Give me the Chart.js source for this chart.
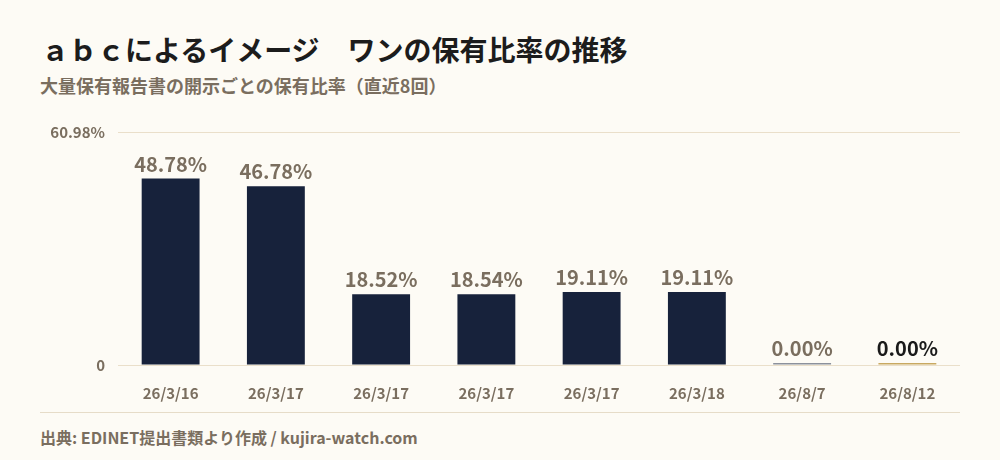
<!DOCTYPE html>
<html lang="ja">
<head>
<meta charset="utf-8">
<script src="https://cdn.jsdelivr.net/npm/chart.js@4.4.1/dist/chart.umd.min.js"></script>
<style>
  html, body { margin:0; padding:0; background:#fdfbf5; }
  body { width:1000px; height:460px; position:relative; overflow:hidden;
         font-family:"Noto Sans CJK JP","Noto Sans",sans-serif; }
  #title { position:absolute; left:41px; top:31px; font-size:28px; font-weight:700; color:#1c1c1c; line-height:36px; white-space:nowrap; }
  #subtitle { position:absolute; left:40px; top:73px; font-size:18px; font-weight:700; color:#7a6e5f; line-height:24px; white-space:nowrap; }
  #wrap { position:absolute; left:0; top:110px; width:1000px; height:300px; }
  #sep { position:absolute; left:40px; top:412px; width:920px; height:1px; background:#e6dcc8; }
  #footer { position:absolute; left:40px; top:426px; font-size:16px; font-weight:700; color:#7a6e5f; line-height:22px; white-space:nowrap; }
</style>
</head>
<body>
<div id="title">ａｂｃによるイメージ　ワンの保有比率の推移</div>
<div id="subtitle">大量保有報告書の開示ごとの保有比率（直近8回）</div>
<div id="wrap"><canvas id="c"></canvas></div>
<div id="sep"></div>
<div id="footer">出典: EDINET提出書類より作成 / kujira-watch.com</div>
<script>
const categories = ['26/3/16','26/3/17','26/3/17','26/3/17','26/3/17','26/3/18','26/8/7','26/8/12'];
const ratios = [48.78, 46.78, 18.52, 18.54, 19.11, 19.11, 0.00, 0.00];
const yTickValues = [0, 60.98];
const yTickLabels = ['0', '60.98%'];
const barColors = ['#17223b','#17223b','#17223b','#17223b','#17223b','#17223b','#8c919c','#c9a961'];
const labelColors = ['#7a6e5f','#7a6e5f','#7a6e5f','#7a6e5f','#7a6e5f','#7a6e5f','#7a6e5f','#1a1a1a'];

const FONT = '"Noto Sans CJK JP","Noto Sans",sans-serif';

const valueLabels = {
  id: 'valueLabels',
  afterDatasetsDraw(chart) {
    const ctx = chart.ctx;
    const meta = chart.getDatasetMeta(0);
    ctx.save();
    ctx.font = '700 20px ' + FONT;
    ctx.textAlign = 'center';
    ctx.textBaseline = 'alphabetic';
    meta.data.forEach((bar, i) => {
      ctx.fillStyle = labelColors[i];
      ctx.fillText(ratios[i].toFixed(2) + '%', bar.x, bar.y - 7);
    });
    ctx.restore();
  }
};

new Chart(document.getElementById('c'), {
  type: 'bar',
  data: {
    labels: categories,
    datasets: [{
      data: ratios,
      backgroundColor: barColors,
      borderWidth: 0,
      minBarLength: 2,
      categoryPercentage: 1,
      barPercentage: 0.55
    }]
  },
  options: {
    responsive: true,
    maintainAspectRatio: false,
    animation: false,
    layout: { padding: { top: 20, right: 40, left: 0, bottom: 0 } },
    plugins: { legend: { display: false }, tooltip: { enabled: false } },
    scales: {
      x: {
        grid: { display: false },
        border: { display: false },
        ticks: { color: '#7a6e5f', font: { family: FONT, size: 15, weight: '700' }, padding: 11, maxRotation: 0, autoSkip: false },
        afterFit(scale) { scale.height = 45; }
      },
      y: {
        min: 0,
        max: yTickValues[yTickValues.length - 1],
        grid: { color: '#eadfca', lineWidth: 1, drawTicks: false },
        border: { display: false },
        afterBuildTicks(scale) { scale.ticks = yTickValues.map(v => ({ value: v })); },
        ticks: {
          color: '#7a6e5f',
          font: { family: FONT, size: 15, weight: '700' },
          padding: 13,
          callback(value) { const i = yTickValues.indexOf(value); return i >= 0 ? yTickLabels[i] : ''; }
        },
        afterFit(scale) { scale.width = 118; }
      }
    }
  },
  plugins: [valueLabels]
});
</script>
</body>
</html>
